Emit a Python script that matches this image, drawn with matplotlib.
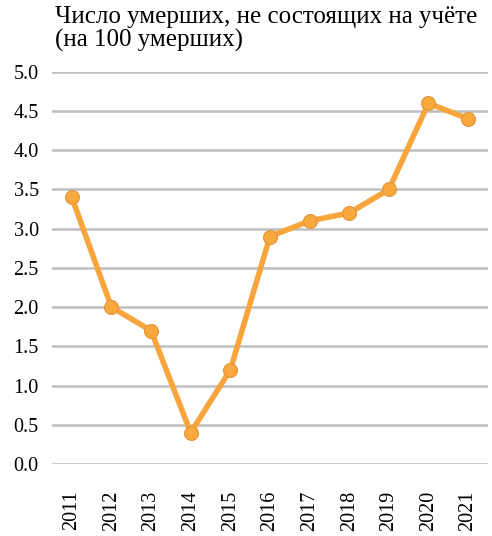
import numpy as np
import matplotlib
matplotlib.use("Agg")
import matplotlib.pyplot as plt
from matplotlib import font_manager as fm

years = ["2011", "2012", "2013", "2014", "2015", "2016", "2017", "2018", "2019", "2020", "2021"]
values = [3.4, 2.0, 1.7, 0.4, 1.2, 2.9, 3.1, 3.2, 3.5, 4.6, 4.4]
yticks = [0.0, 0.5, 1.0, 1.5, 2.0, 2.5, 3.0, 3.5, 4.0, 4.5, 5.0]

# pick the regular Liberation Serif file (Times New Roman look-alike)
serif_file = None
for f in fm.fontManager.ttflist:
    if f.name == "Liberation Serif" and f.style == "normal" and f.weight in (400, "normal", "regular"):
        serif_file = f.fname
        break
if serif_file:
    fp = lambda size: fm.FontProperties(fname=serif_file, size=size)
else:
    fp = lambda size: fm.FontProperties(family="serif", size=size)

fig = plt.figure(figsize=(4.92, 5.36), dpi=100)
ax = fig.add_axes([0.1057, 0.1343, 0.886, 0.7317])

x = np.arange(len(years))
ax.plot(x, values, color="#F7A53C", lw=4, marker="o", ms=10,
        markerfacecolor="#F9A83E", markeredgecolor="#E0963A", markeredgewidth=0.8,
        zorder=3, solid_joinstyle="round")

ax.set_xlim(-0.5, len(years) - 0.5)
ax.set_ylim(0, 5.0)
ax.set_yticks(yticks)
ax.set_yticklabels([f"{v:.1f}" for v in yticks], fontproperties=fp(14.5))
ax.set_xticks(x)
ax.set_xticklabels(years, rotation=90, fontproperties=fp(14.5))
ax.tick_params(axis="x", length=0, pad=19)
ax.tick_params(axis="y", length=0, pad=9.5)
ax.grid(axis="y", color="#BFBFBF", lw=1.8)
ax.set_axisbelow(True)
for s in ax.spines.values():
    s.set_visible(False)

fig.text(0.112, 0.989, "Число умерших, не состоящих на учёте\n(на 100 умерших)",
         fontproperties=fp(18), va="top", ha="left", linespacing=1.08)

fig.savefig("out.png", dpi=100)
